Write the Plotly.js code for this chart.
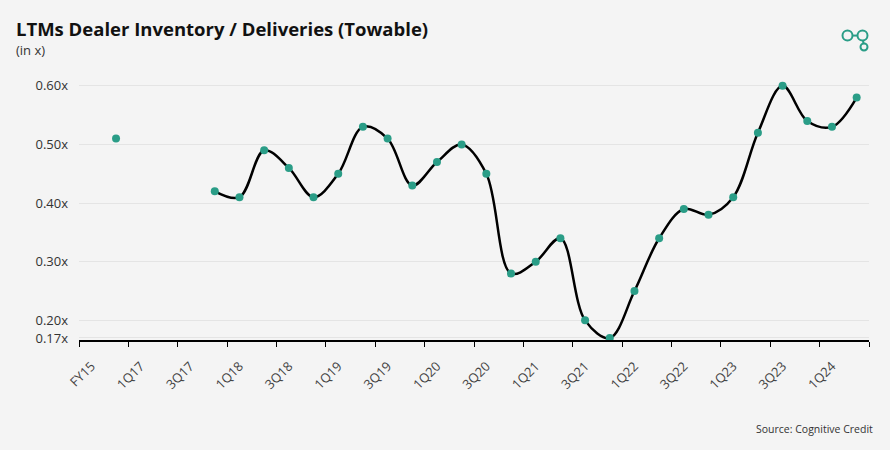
<!DOCTYPE html>
<html>
<head>
<meta charset="utf-8">
<script src="https://cdn.plot.ly/plotly-3.0.1.min.js"></script>
<style>
  html, body { margin: 0; padding: 0; background: #f4f4f4; }
  #chart { width: 890px; height: 450px; }
</style>
</head>
<body>
<div id="chart"></div>
<script>
// ---- data ----
const periods = [
  'FY15','FY16',
  '1Q17','2Q17','3Q17','4Q17',
  '1Q18','2Q18','3Q18','4Q18',
  '1Q19','2Q19','3Q19','4Q19',
  '1Q20','2Q20','3Q20','4Q20',
  '1Q21','2Q21','3Q21','4Q21',
  '1Q22','2Q22','3Q22','4Q22',
  '1Q23','2Q23','3Q23','4Q23',
  '1Q24','2Q24'
];
const inventoryToDeliveries = [
  null, 0.51,
  null, null, null, 0.42,
  0.41, 0.49, 0.46, 0.41,
  0.45, 0.53, 0.51, 0.43,
  0.47, 0.50, 0.45, 0.28,
  0.30, 0.34, 0.20, 0.17,
  0.25, 0.34, 0.39, 0.38,
  0.41, 0.52, 0.60, 0.54,
  0.53, 0.58
];
const yTickVals = [0.17, 0.20, 0.30, 0.40, 0.50, 0.60];
const yTickText = ['0.17x', '0.20x', '0.30x', '0.40x', '0.50x', '0.60x'];

const titleText = 'LTMs Dealer Inventory / Deliveries (Towable)';
const subtitleText = '(in x)';
const sourceText = 'Source: Cognitive Credit';

// ---- layout helpers (pixel -> paper) ----
const M = {l: 79, r: 21, t: 70, b: 109.5};
const W = 890, H = 450;
const PW = W - M.l - M.r, PH = H - M.t - M.b;
const px = x => (x - M.l) / PW;
const py = y => (H - M.b - y) / PH;

const teal = '#2a9d87';

function circle(cx, cy, r, w) {
  return {type: 'circle', xref: 'paper', yref: 'paper',
    x0: px(cx - r), x1: px(cx + r), y0: py(cy + r), y1: py(cy - r),
    line: {color: teal, width: w || 2}};
}
function seg(x0, y0, x1, y1) {
  return {type: 'line', xref: 'paper', yref: 'paper',
    x0: px(x0), x1: px(x1), y0: py(y0), y1: py(y1),
    line: {color: teal, width: 2}};
}

const trace = {
  type: 'scatter',
  mode: 'lines+markers',
  x: periods,
  y: inventoryToDeliveries,
  connectgaps: false,
  line: {shape: 'spline', smoothing: 1, color: '#000000', width: 2.5},
  marker: {color: teal, size: 8},
  hoverinfo: 'x+y'
};

const layout = {
  width: W, height: H,
  margin: M,
  paper_bgcolor: '#f4f4f4',
  plot_bgcolor: '#f4f4f4',
  showlegend: false,
  font: {family: 'Open Sans, sans-serif', color: '#333333'},
  xaxis: {
    type: 'category',
    categoryorder: 'array',
    categoryarray: periods,
    range: [-0.5, 31.5],
    tickmode: 'linear', tick0: 0, dtick: 2,
    tickson: 'boundaries',
    ticks: 'outside', ticklen: 5, tickcolor: '#000', tickwidth: 1,
    showline: true, linecolor: '#000', linewidth: 1.5,
    showgrid: false, zeroline: false,
    tickangle: -45,
    ticklabelstandoff: 12,
    tickfont: {family: 'Open Sans, sans-serif', size: 13, color: '#444444'}
  },
  yaxis: {
    range: [0.1665, 0.627],
    tickmode: 'array',
    tickvals: yTickVals,
    ticktext: yTickText,
    showgrid: true, gridcolor: '#e4e4e4', gridwidth: 1,
    zeroline: false, showline: false,
    ticks: '', ticklabelstandoff: 10,
    tickfont: {family: 'Open Sans, sans-serif', size: 13, color: '#333333'}
  },
  annotations: [
    {text: '<b>' + titleText + '</b>', xref: 'paper', yref: 'paper',
     x: px(14), y: py(28.5), xanchor: 'left', yanchor: 'middle', showarrow: false,
     font: {family: 'Open Sans, sans-serif', size: 18.5, color: '#111111'}},
    {text: subtitleText, xref: 'paper', yref: 'paper',
     x: px(14), y: py(49.5), xanchor: 'left', yanchor: 'middle', showarrow: false,
     font: {family: 'Open Sans, sans-serif', size: 13, color: '#333333'}},
    {text: sourceText, xref: 'paper', yref: 'paper',
     x: px(875), y: py(429.5), xanchor: 'right', yanchor: 'middle', showarrow: false,
     font: {family: 'Open Sans, sans-serif', size: 10.5, color: '#333333'}}
  ],
  shapes: [
    circle(847.5, 35.5, 5),
    circle(862.5, 35.5, 5),
    seg(852.5, 35.5, 857.5, 35.5),
    seg(863, 40.5, 863.6, 43.5),
    circle(864, 47, 3.5)
  ]
};

Plotly.newPlot('chart', [trace], layout, {displayModeBar: false, staticPlot: true});
</script>
</body>
</html>
